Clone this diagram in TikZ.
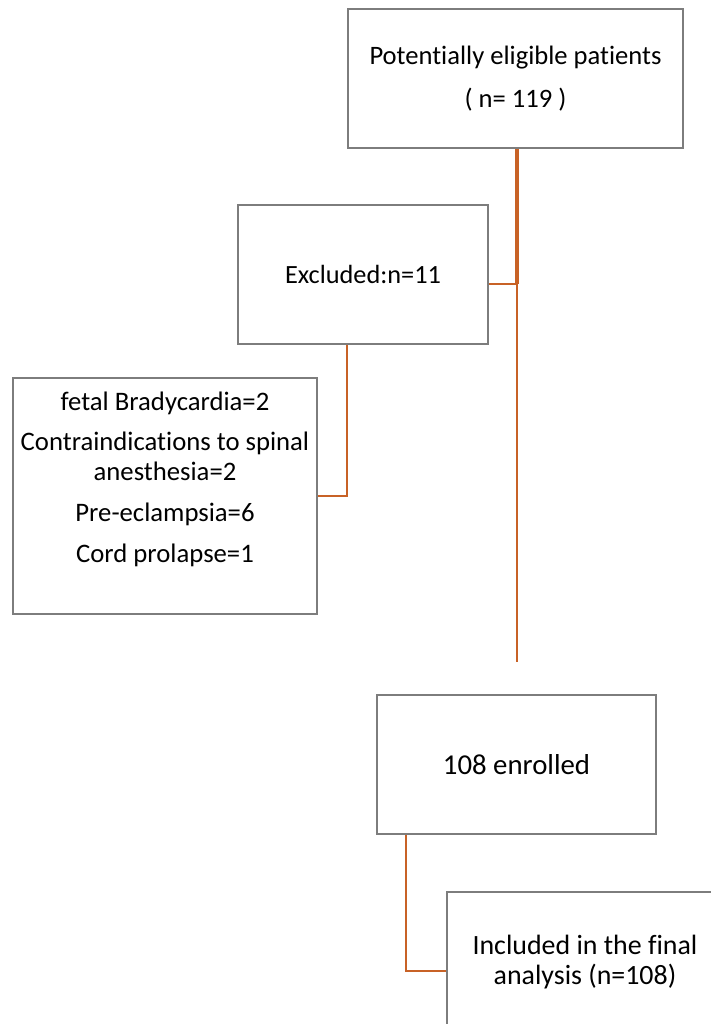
\documentclass[tikz,border=0pt]{standalone}
\usepackage{fontspec}
\setmainfont{Carlito}[Ligatures=NoCommon]
\definecolor{boxgray}{RGB}{125,125,125}
\definecolor{linkorange}{RGB}{200,98,38}
\begin{document}
\begin{tikzpicture}[x=1pt, y=-1pt,
  every text node part/.style={align=center},
  box/.style={draw=boxgray, line width=1.3pt, fill=white, inner sep=0pt},
  link/.style={draw=linkorange, line width=2.6pt},
  mainlink/.style={draw=linkorange, line width=4.5pt}]
  \useasboundingbox[fill=white] (0,0) rectangle (711,1024);

  \node[box, minimum width=335, minimum height=139, font=\fontsize{26.6}{43}\selectfont] (top) at (515.5,78.5) {Potentially eligible patients\\( n= 119 )};
  \node[box, minimum width=250, minimum height=139, font=\fontsize{26.3}{31}\selectfont] (excl) at (363,274.5) {Excluded:n=11};
  \node[box, minimum width=304, minimum height=236] (reasons) at (165,496) {};
  \node[font=\fontsize{26.7}{29.5}\selectfont] (reasonstxt) at (165,479) {fetal Bradycardia=2\\[11pt]
    Contraindications to spinal\\anesthesia=2\\[11.5pt]Pre-eclampsia=6\\[11.5pt]Cord prolapse=1};
  \node[box, minimum width=279, minimum height=139, font=\fontsize{28.8}{40}\selectfont] (enrol) at (516.5,764.5) {108 enrolled};
  \node[box, minimum width=276, minimum height=140, font=\fontsize{27.9}{30.5}\selectfont] (final) at (585,962) {Included in the final\\analysis (n=108)};

  \coordinate (j1) at (517,284);
  \coordinate (tail) at (517,662);
  \coordinate (j2) at (347,496);
  \coordinate (j3) at (406,971);

  \draw[mainlink] (top.south -| j1) -- (j1);
  \draw[link] (j1) -- (tail);
  \draw[link] (j1) -- (j1 -| excl.east);
  \draw[link] (j2 |- excl.south) -- (j2) -- (reasons.east |- j2);
  \draw[link] (j3 |- enrol.south) -- (j3) -- (final.west |- j3);
\end{tikzpicture}
\end{document}
